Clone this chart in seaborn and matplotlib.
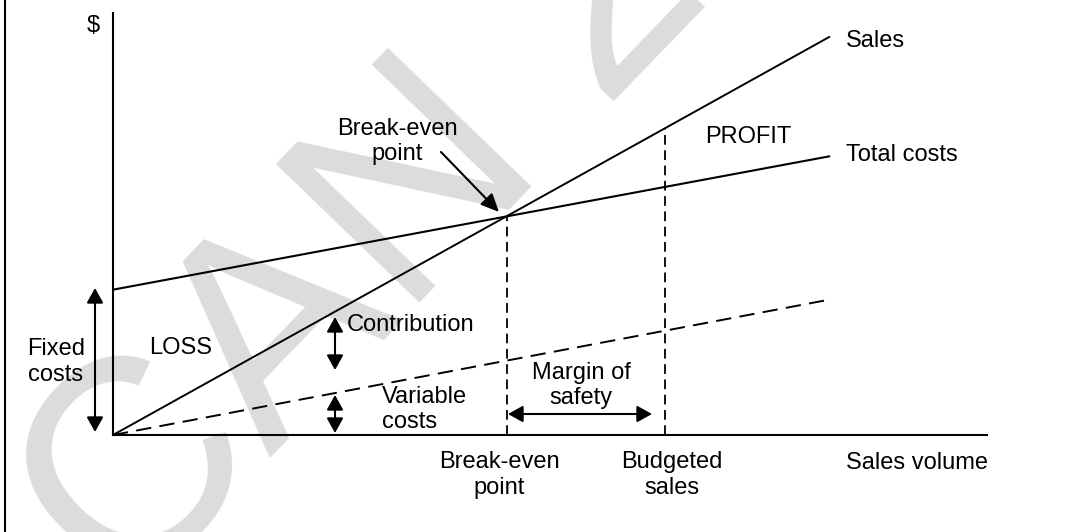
import matplotlib
matplotlib.use("Agg")
import matplotlib.pyplot as plt
import seaborn as sns
import pandas as pd
from matplotlib.lines import Line2D

# ---------------- data ----------------
volume = [0, 100]
sales = [0, 400]
total_costs = [146, 280]
variable_costs = [0, 136]
fixed_costs = 146
break_even_volume = 55
budgeted_volume = 77
x_max = 122
y_max = 424
watermark = "CAN 2"

# ---------------- style ----------------
sns.set_theme(style="white")
plt.rcParams["font.family"] = ["Liberation Sans", "DejaVu Sans"]
plt.rcParams["lines.scale_dashes"] = False

W, H = 1078, 532
fig = plt.figure(figsize=(W / 100, H / 100), dpi=100)
fig.patch.set_facecolor("white")
AX_L, AX_R, AX_B, AX_T = 113, 987, 435, 13
ax = fig.add_axes([AX_L / W, 1 - AX_B / H, (AX_R - AX_L) / W, (AX_B - AX_T) / H])
ax.set_facecolor("none")


def px(xp, yp):
    """pixel position in the picture -> data coordinates (layout helper)"""
    return ((xp - AX_L) / (AX_R - AX_L) * x_max, (AX_B - yp) / (AX_B - AX_T) * y_max)


# watermark
fig.text(125 / W, 1 - 608 / H, watermark, rotation=46, rotation_mode="anchor",
         ha="left", va="baseline", fontsize=208, color="#dcdcdc", zorder=-10)

# left border of the picture
fig.add_artist(Line2D([5 / W, 5 / W], [0, 1], color="black", lw=1.5))

# ---------------- lines ----------------
df = pd.DataFrame({"volume": volume, "Sales": sales,
                   "Total costs": total_costs, "Variable costs": variable_costs})
sns.lineplot(data=df, x="volume", y="Sales", color="black", lw=1.4, ax=ax)
sns.lineplot(data=df, x="volume", y="Total costs", color="black", lw=1.5, ax=ax)
sns.lineplot(data=df, x="volume", y="Variable costs", color="black", lw=1.4,
             linestyle=(0, (11, 6)), ax=ax)

price = sales[1] / volume[1]
for v in (break_even_volume, budgeted_volume):
    ax.plot([v, v], [0, price * v], color="black", lw=1.3, linestyle=(0, (7, 4)))

ax.set_xlim(0, x_max)
ax.set_ylim(0, y_max)
ax.set_xticks([])
ax.set_yticks([])
ax.set_xlabel("")
ax.set_ylabel("")
for s in ("top", "right"):
    ax.spines[s].set_visible(False)
for s in ("left", "bottom"):
    ax.spines[s].set_color("black")
    ax.spines[s].set_linewidth(1.5)

# ---------------- arrows ----------------
dbl = dict(arrowstyle="<|-|>,head_length=9,head_width=5", mutation_scale=1,
           lw=1.5, color="black", shrinkA=0, shrinkB=0)
ax.annotate("", xy=px(95, 288), xytext=px(95, 432), arrowprops=dbl, annotation_clip=False)
ax.annotate("", xy=px(335, 317), xytext=px(335, 370), arrowprops=dbl, annotation_clip=False)
ax.annotate("", xy=px(335, 395), xytext=px(335, 433), arrowprops=dbl, annotation_clip=False)
ax.annotate("", xy=px(508, 414), xytext=px(652, 414), arrowprops=dbl, annotation_clip=False)
ax.annotate("", xy=px(499, 212), xytext=px(441, 152),
            arrowprops=dict(arrowstyle="-|>,head_length=11,head_width=5", mutation_scale=1,
                            lw=1.5, color="black", shrinkA=0, shrinkB=0),
            annotation_clip=False)

# ---------------- texts ----------------
fs = 17
def label(xp, yp, s, ha="left"):
    ax.text(*px(xp, yp), s, ha=ha, va="center", fontsize=fs, color="black",
            multialignment=ha if ha != "center" else "center", clip_on=False)

label(93, 26, "$", ha="center")
label(846, 40.5, "Sales")
label(846, 155, "Total costs")
label(705, 137, "PROFIT")
label(397, 141.5, "Break-even\npoint", ha="center")
label(149, 348, "LOSS")
label(56, 362, "Fixed\ncosts", ha="center")
label(347, 325, "Contribution")
label(382, 409.5, "Variable\ncosts")
label(581, 385.5, "Margin of\nsafety", ha="center")
label(499, 475, "Break-even\npoint", ha="center")
label(672, 475, "Budgeted\nsales", ha="center")
label(846, 463, "Sales volume")

fig.savefig("out.png", dpi=100, facecolor="white")
